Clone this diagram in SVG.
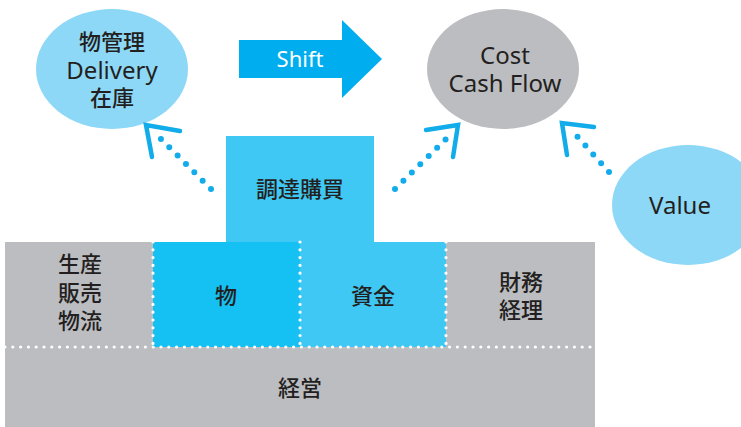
<svg xmlns="http://www.w3.org/2000/svg" width="741" height="427" viewBox="0 0 741 427">
<defs>
<style>
.t{font-family:"Noto Sans","Noto Sans CJK JP",sans-serif;font-size:24px;fill:#231f20;text-anchor:middle}
.j{font-family:"Noto Sans CJK JP",sans-serif;font-size:22px;font-weight:500;fill:#231f20;text-anchor:middle}
.gray{fill:#bcbdc0}
.wd{stroke:#fff;stroke-width:3.2;stroke-linecap:round;stroke-dasharray:0 7.8;fill:none}
.bd{stroke:#11ace9;stroke-width:6;stroke-linecap:round;stroke-dasharray:0 11.8;fill:none}
.ch{stroke:#11ace9;stroke-width:4.5;stroke-linecap:round;stroke-linejoin:miter;fill:none}
</style>
</defs>
<rect width="741" height="427" fill="#fff"/>
<g id="base">
<rect class="gray" x="5" y="242" width="590" height="185"/>
</g>
<g id="keiei"><text class="j" x="300" y="396">経営</text></g>
<g id="seisan"><text class="j" x="80" y="272">生産</text><text class="j" x="80" y="301">販売</text><text class="j" x="80" y="329">物流</text></g>
<g id="zaimu"><text class="j" x="521" y="290">財務</text><text class="j" x="521" y="318">経理</text></g>
<g id="mono"><rect x="153" y="242" width="147" height="105" fill="#15c1f3"/><text class="j" x="226" y="304">物</text></g>
<g id="shikin"><rect x="300" y="242" width="146" height="105" fill="#40c8f4"/><text class="j" x="373" y="304">資金</text></g>
<g id="chotatsu"><rect x="226" y="136" width="148" height="106" fill="#40c8f4"/><text class="j" x="300" y="197">調達購買</text></g>
<g id="dividers">
<path class="wd" d="M153 242V347M300 242V347M446 242V347M5 347H595"/>
</g>
<g id="butsukanri"><ellipse cx="112" cy="69" rx="76" ry="60" fill="#8ed8f7"/>
<text class="j" x="112" y="50">物管理</text><text class="t" x="112" y="79">Delivery</text><text class="j" x="112" y="106">在庫</text></g>
<g id="cost"><ellipse cx="503" cy="69" rx="76" ry="60" class="gray"/>
<text class="t" x="505" y="64">Cost</text><text class="t" x="505" y="92">Cash Flow</text></g>
<g id="value"><ellipse cx="688" cy="205" rx="76" ry="60" fill="#8ed8f7"/>
<text class="t" x="680" y="214">Value</text></g>
<g id="shift"><path d="M239 40H342V20L382 59L342 98V78H239Z" fill="#00aeef"/>
<text x="300" y="67" style="font-family:'Noto Sans',sans-serif;font-size:22px;fill:#fff;text-anchor:middle">Shift</text></g>
<g id="connectors">
<path class="bd" d="M211 189L160 138"/>
<path class="ch" d="M152 157L146 125L180 131"/>
<path class="bd" d="M395 189L447 138"/>
<path class="ch" d="M426 130L458 125L453 157"/>
<path class="bd" d="M609 172L575 134"/>
<path class="ch" d="M594 127L562 123L567 155"/>
</g>
</svg>
